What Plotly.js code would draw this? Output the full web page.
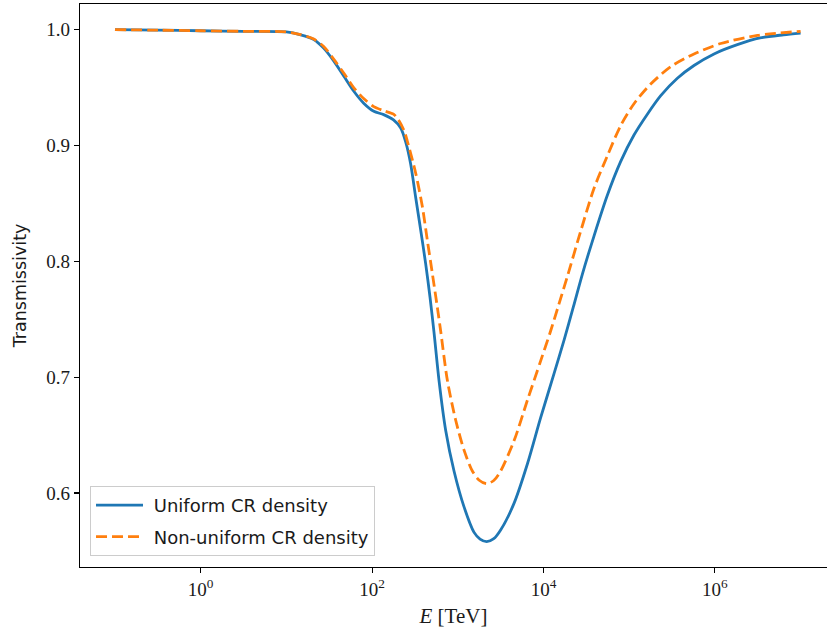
<!DOCTYPE html>
<html>
<head>
<meta charset="utf-8">
<script src="https://cdn.plot.ly/plotly-3.0.1.min.js"></script>
<style>
  html, body { margin: 0; padding: 0; background: #ffffff; }
  #chart { width: 827px; height: 634px; }
</style>
</head>
<body>
<div id="chart"></div>
<script>
// log10(E / TeV) sample positions and transmissivity values
const uniformLogE = [-1.0, -0.5, 0.0, 0.5, 1.0, 1.167, 1.32, 1.435, 1.552, 1.669, 1.785, 1.902, 2.02, 2.135, 2.25, 2.334, 2.392, 2.45, 2.509, 2.567, 2.625, 2.676, 2.722, 2.781, 2.859, 2.956, 3.073, 3.19, 3.26, 3.337, 3.42, 3.50, 3.656, 3.812, 3.967, 4.123, 4.24, 4.35, 4.454, 4.59, 4.745, 4.90, 5.056, 5.212, 5.368, 5.562, 5.756, 5.99, 6.262, 6.527, 6.8, 7.0];
const uniformT = [1.000, 0.9995, 0.999, 0.9985, 0.998, 0.9955, 0.9915, 0.984, 0.973, 0.960, 0.947, 0.9365, 0.9295, 0.9266, 0.922, 0.915, 0.903, 0.884, 0.855, 0.827, 0.798, 0.769, 0.739, 0.697, 0.654, 0.619, 0.588, 0.566, 0.5602, 0.558, 0.5605, 0.568, 0.591, 0.625, 0.665, 0.703, 0.732, 0.761, 0.789, 0.822, 0.857, 0.886, 0.909, 0.927, 0.943, 0.958, 0.969, 0.979, 0.987, 0.9928, 0.9955, 0.997];

const nonUniformLogE = [-1.0, -0.5, 0.0, 0.5, 1.0, 1.167, 1.32, 1.435, 1.552, 1.669, 1.785, 1.902, 2.02, 2.135, 2.25, 2.30, 2.372, 2.41, 2.509, 2.587, 2.645, 2.704, 2.762, 2.80, 2.879, 2.975, 3.073, 3.17, 3.25, 3.337, 3.42, 3.50, 3.656, 3.812, 3.967, 4.084, 4.18, 4.279, 4.434, 4.59, 4.745, 4.90, 5.056, 5.251, 5.484, 5.756, 6.068, 6.496, 7.0];
const nonUniformT = [1.000, 0.9995, 0.999, 0.9985, 0.998, 0.9957, 0.9918, 0.9855, 0.9745, 0.9625, 0.950, 0.9405, 0.9335, 0.930, 0.927, 0.923, 0.913, 0.904, 0.876, 0.847, 0.818, 0.789, 0.760, 0.740, 0.697, 0.663, 0.637, 0.619, 0.611, 0.608, 0.6108, 0.619, 0.645, 0.680, 0.714, 0.740, 0.763, 0.787, 0.826, 0.863, 0.891, 0.917, 0.936, 0.953, 0.968, 0.979, 0.988, 0.995, 0.9985];

const seriesNames = ["\u00a0Uniform CR density", "\u00a0Non-uniform CR density"];
const xTickVals = [1, 100, 1e4, 1e6];
const xTickText = ["10<sup>0</sup>", "10<sup>2</sup>", "10<sup>4</sup>", "10<sup>6</sup>"];
const yTickVals = [0.6, 0.7, 0.8, 0.9, 1.0];
const yTickText = ["0.6", "0.7", "0.8", "0.9", "1.0"];

const toE = arr => arr.map(v => Math.pow(10, v));

const traces = [
  {
    x: toE(uniformLogE), y: uniformT, type: "scatter", mode: "lines",
    name: seriesNames[0], legendgroup: "a",
    line: {color: "#1f77b4", width: 2.8, shape: "spline", smoothing: 0.8}
  },
  {
    x: toE(nonUniformLogE), y: nonUniformT, type: "scatter", mode: "lines",
    name: seriesNames[1], legendgroup: "b",
    line: {color: "#ff7f0e", width: 2.8, dash: "11px,5px", shape: "spline", smoothing: 0.8}
  }
];

const serif = "'Liberation Serif', 'DejaVu Serif', serif";
const sans = "'DejaVu Sans', sans-serif";

const layout = {
  width: 827, height: 634,
  margin: {l: 80, r: 0, t: 4, b: 67, pad: 0},
  paper_bgcolor: "#ffffff", plot_bgcolor: "#ffffff",
  showlegend: true,
  xaxis: {
    type: "log",
    range: [-1.408, 7.308],
    tickvals: xTickVals, ticktext: xTickText,
    ticks: "outside", ticklen: 5, tickwidth: 1.1, tickcolor: "#000",
    showline: true, linecolor: "#000", linewidth: 1.1, mirror: true,
    showgrid: false, zeroline: false,
    tickfont: {family: serif, size: 19, color: "#1a1a1a"},
    title: {text: "<i>E</i> [TeV]", font: {family: serif, size: 21, color: "#1a1a1a"}, standoff: 9}
  },
  yaxis: {
    range: [0.5361, 1.0221],
    tickvals: yTickVals, ticktext: yTickText,
    ticks: "outside", ticklen: 5, tickwidth: 1.1, tickcolor: "#000",
    showline: true, linecolor: "#000", linewidth: 1.1, mirror: false,
    showgrid: false, zeroline: false,
    tickfont: {family: serif, size: 19, color: "#1a1a1a"},
    title: {text: "Transmissivity", font: {family: sans, size: 17.5, color: "#1a1a1a"}, standoff: 15}
  },
  legend: {
    x: 0.0134, y: 0.0195, xanchor: "left", yanchor: "bottom",
    bgcolor: "rgba(255,255,255,0.8)", bordercolor: "#cccccc", borderwidth: 1,
    font: {family: sans, size: 18, color: "#1a1a1a"},
    itemwidth: 47,
    tracegroupgap: 5
  }
};

Plotly.newPlot("chart", traces, layout, {staticPlot: true, displayModeBar: false});
</script>
</body>
</html>
